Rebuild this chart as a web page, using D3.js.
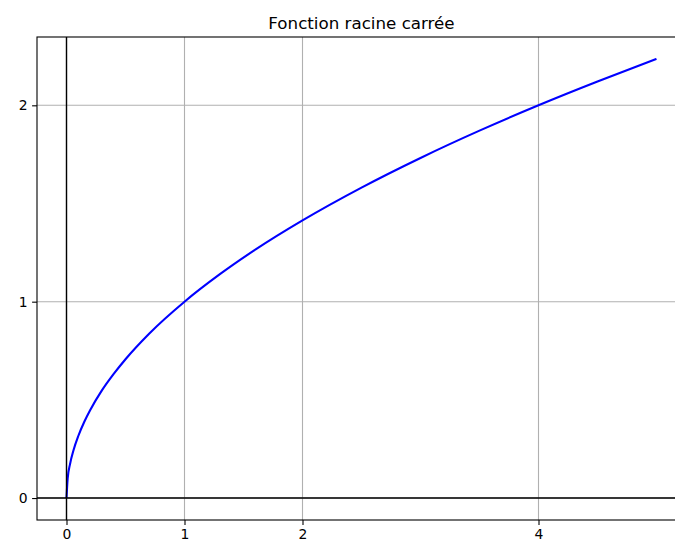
<!DOCTYPE html>
<html>
<head>
<meta charset="utf-8">
<script src="https://cdn.jsdelivr.net/npm/d3@7"></script>
<style>
  body { margin: 0; background: #fff; }
  svg { display: block; font-family: "DejaVu Sans", sans-serif; }
</style>
</head>
<body>
<div class="root"></div>
<script>
// points
var xs = [0, 0.01, 0.03, 0.06, 0.1, 0.15, 0.2, 0.3, 0.4, 0.5, 0.7, 1, 1.3, 1.6, 2, 2.5, 3, 3.5, 4, 4.5, 5];
var ys = [0, 0.1, 0.173, 0.245, 0.316, 0.387, 0.447, 0.548, 0.632, 0.707, 0.837, 1, 1.14, 1.265, 1.414, 1.581, 1.732, 1.871, 2, 2.121, 2.236];
var xTicks = [0, 1, 2, 4];
var yTicks = [0, 1, 2];
var title = 'Fonction racine carrée';

function runChart() {
  var w = 675, h = 549;
  var left = 37, right = 686, top = 37, bottom = 520;

  var svg = d3.select('.root').append('svg')
    .attr('width', w)
    .attr('height', h);

  var x = d3.scaleLinear().domain([-0.25, 5.25]).range([left, right]);
  var y = d3.scaleLinear().domain([-0.1118, 2.3479]).range([bottom, top]);

  var plot = svg.append('g');

  // grid
  plot.append('g').selectAll('line')
    .data(xTicks).enter().append('line')
      .attr('x1', function(d) { return x(d); })
      .attr('x2', function(d) { return x(d); })
      .attr('y1', top).attr('y2', bottom)
      .attr('stroke', '#b0b0b0').attr('stroke-width', 1.1);
  plot.append('g').selectAll('line')
    .data(yTicks).enter().append('line')
      .attr('y1', function(d) { return y(d); })
      .attr('y2', function(d) { return y(d); })
      .attr('x1', left).attr('x2', right)
      .attr('stroke', '#b0b0b0').attr('stroke-width', 1.1);

  // the curve
  var pts = xs.map(function(v, i) { return [v, ys[i]]; });
  var line = d3.line()
    .x(function(d) { return x(d[0]); })
    .y(function(d) { return y(d[1]); })
    .curve(d3.curveMonotoneX);
  plot.append('path')
    .datum(pts)
    .attr('d', line)
    .attr('fill', 'none')
    .attr('stroke', '#0000ff')
    .attr('stroke-width', 2.1);

  // x = 0 and y = 0 lines
  plot.append('line')
    .attr('x1', left).attr('x2', right)
    .attr('y1', y(0)).attr('y2', y(0))
    .attr('stroke', '#000').attr('stroke-width', 1.4);
  plot.append('line')
    .attr('x1', x(0)).attr('x2', x(0))
    .attr('y1', top).attr('y2', bottom)
    .attr('stroke', '#000').attr('stroke-width', 1.4);

  // axes
  var xAxis = d3.axisBottom(x).tickValues(xTicks).tickFormat(d3.format('d'))
    .tickSizeInner(4.9).tickSizeOuter(0).tickPadding(4.5);
  var yAxis = d3.axisLeft(y).tickValues(yTicks).tickFormat(d3.format('d'))
    .tickSizeInner(4.9).tickSizeOuter(0).tickPadding(4.5);

  var gx = svg.append('g').attr('transform', 'translate(0,' + bottom + ')').call(xAxis);
  var gy = svg.append('g').attr('transform', 'translate(' + left + ',0)').call(yAxis);
  [gx, gy].forEach(function(g) {
    g.selectAll('.domain').remove();
    g.selectAll('line').attr('stroke', '#000').attr('stroke-width', 1.1);
    g.selectAll('text').attr('fill', '#000')
      .style('font-family', '"DejaVu Sans", sans-serif').style('font-size', '13.9px');
  });

  // spines
  svg.append('rect')
    .attr('x', left).attr('y', top)
    .attr('width', right - left).attr('height', bottom - top)
    .attr('fill', 'none').attr('stroke', '#000').attr('stroke-width', 1.1);

  svg.append('text')
    .attr('x', (left + right) / 2)
    .attr('y', top - 8.3)
    .attr('text-anchor', 'middle')
    .style('font-size', '16.7px')
    .attr('fill', '#000')
    .text(title);
}

window.onload = function() {
  runChart();
};
</script>
</body>
</html>
